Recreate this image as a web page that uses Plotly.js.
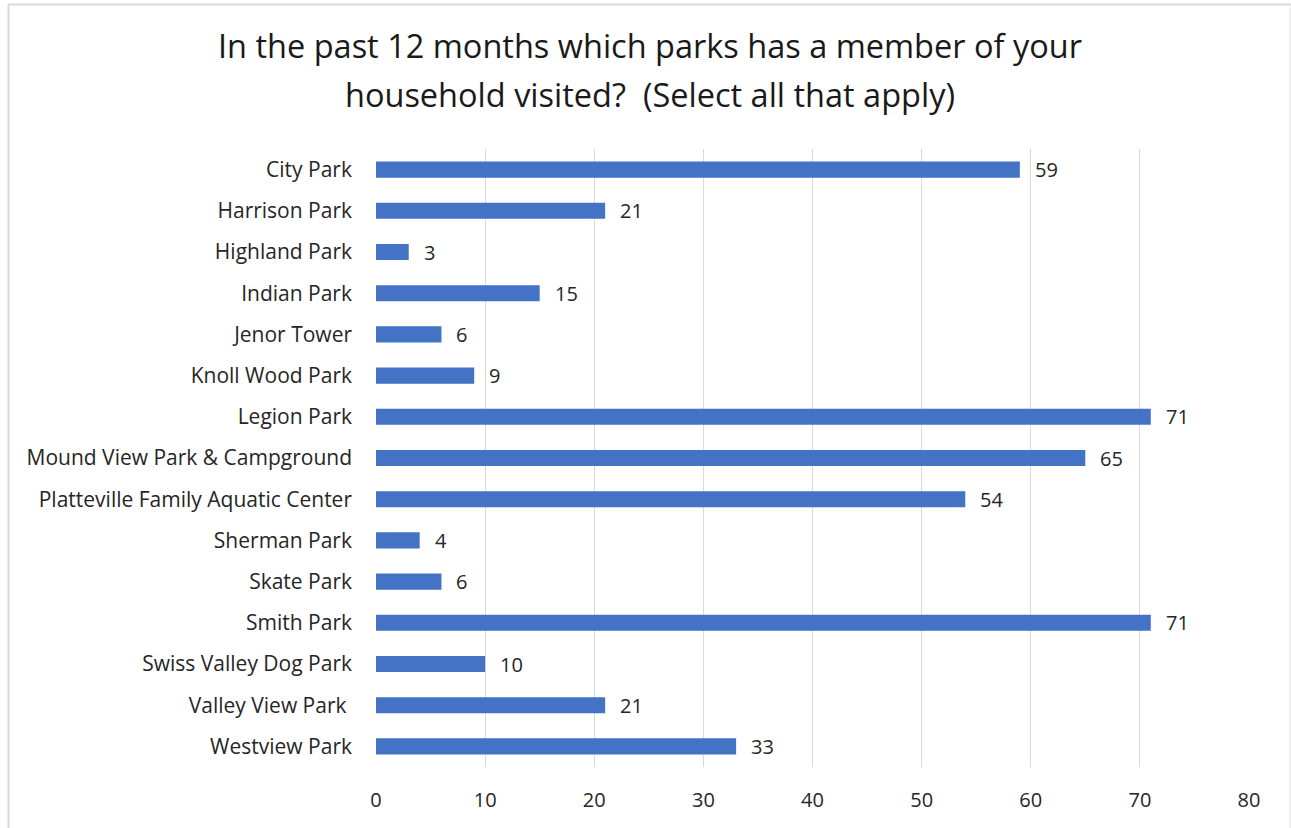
<!DOCTYPE html>
<html>
<head>
<meta charset="utf-8">
<script src="https://cdn.plot.ly/plotly-3.0.1.min.js"></script>
<style>
html,body{margin:0;padding:0;background:#fff;}
#chart{width:1291px;height:828px;}
</style>
</head>
<body>
<div id="chart"></div>
<script>
const parks = ["City Park","Harrison Park","Highland Park","Indian Park","Jenor Tower","Knoll Wood Park","Legion Park","Mound View Park & Campground","Platteville Family Aquatic Center","Sherman Park","Skate Park","Smith Park","Swiss Valley Dog Park","Valley View Park ","Westview Park"];
const visits = [59,21,3,15,6,9,71,65,54,4,6,71,10,21,33];
const xTicks = [0,10,20,30,40,50,60,70,80];
const titleLines = ["In the past 12 months which parks has a member of your", "household visited?  (Select all that apply)"];

const W = 1291, H = 828;
const m = {l:376, r:42, t:149, b:61};
const pw = W - m.l - m.r, ph = H - m.t - m.b;
const px = v => (v - m.l) / pw;
const py = v => 1 - (v - m.t) / ph;
const FONT = "Open Sans, Noto Sans, sans-serif";
const TXT = '#262626';

const shapes = [
  {type:'line', xref:'paper', yref:'paper', x0:px(8.5), x1:px(8.5), y0:py(4.5), y1:py(830), line:{color:'#d9d9d9', width:2}},
  {type:'line', xref:'paper', yref:'paper', x0:px(8), x1:px(1291), y0:py(4.5), y1:py(4.5), line:{color:'#d9d9d9', width:2}},
  {type:'line', xref:'paper', yref:'paper', x0:px(1290), x1:px(1290), y0:py(4), y1:py(830), line:{color:'#e6e6e6', width:1}}
];

const annotations = parks.map((p, i) => ({
  x: visits[i], y: p, xref:'x', yref:'y',
  text: String(visits[i]),
  showarrow:false, xanchor:'left', yanchor:'middle', xshift:13,
  font:{family:FONT, size:20, color:TXT}
}));

const data = [{
  type:'bar',
  orientation:'h',
  y: parks,
  x: visits,
  marker:{color:'#4472C4'},
  hoverinfo:'x+y'
}];

const layout = {
  width:W, height:H,
  margin:m,
  paper_bgcolor:'#ffffff',
  plot_bgcolor:'#ffffff',
  bargap:0.61,
  showlegend:false,
  title:{
    text: titleLines.map(s => '<span style="font-size:32.5px">' + s + '</span>').join('<br>'),
    x:650/W, xref:'container', xanchor:'center', y:1-58/H, yref:'container', yanchor:'top',
    font:{family:FONT, size:38, color:'#1a1a1a'}
  },
  xaxis:{range:[0,80], tickvals:xTicks, ticktext:xTicks.map(String), showgrid:true, gridcolor:'#d9d9d9', gridwidth:1, zeroline:false, showline:false, ticks:'', tickfont:{family:FONT, size:20, color:TXT}, ticklabelstandoff:19},
  yaxis:{autorange:'reversed', type:'category', showgrid:false, zeroline:false, showline:false, ticks:'', tickfont:{family:FONT, size:21, color:TXT}, ticklabelstandoff:23},
  shapes:shapes,
  annotations:annotations
};

Plotly.newPlot('chart', data, layout, {displayModeBar:false, staticPlot:true});
</script>
</body>
</html>
